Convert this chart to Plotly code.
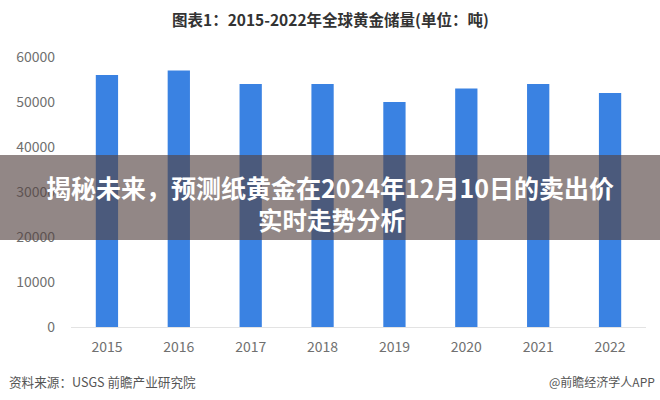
import plotly.graph_objects as go

years = ["2015", "2016", "2017", "2018", "2019", "2020", "2021", "2022"]
reserves = [56000, 57000, 54000, 54000, 50000, 53000, 54000, 52000]
y_ticks = [0, 10000, 20000, 30000, 40000, 50000, 60000]

title_text = "图表1：2015-2022年全球黄金储量(单位：吨)"
banner_line1 = "揭秘未来，预测纸黄金在2024年12月10日的卖出价"
banner_line2 = "实时走势分析"
source_text = "资料来源：USGS 前瞻产业研究院"
brand_text = "@前瞻经济学人APP"

W, H = 660, 400
L, R, T, B = 71, 14, 57, 73
pw, ph = W - L - R, H - T - B

def px(x):
    return (x - L) / pw

def py(y):
    return (H - B - y) / ph

font_cjk = "Noto Sans CJK SC, Noto Sans, sans-serif"

fig = go.Figure(go.Bar(
    x=years, y=reserves,
    marker=dict(color="#3a82e2", line=dict(width=0)),
    width=0.31,
    hoverinfo="x+y",
))

fig.update_layout(
    width=W, height=H,
    margin=dict(l=L, r=R, t=T, b=B),
    paper_bgcolor="white", plot_bgcolor="white",
    showlegend=False,
    font=dict(family=font_cjk, color="#666666", size=14),
    xaxis=dict(
        type="category", showgrid=False, zeroline=False,
        showline=True, linecolor="#e3e3e3", linewidth=1,
        ticks="", tickfont=dict(size=14, color="#707070"),
        ticklabelstandoff=7,
    ),
    yaxis=dict(
        range=[0, 60000], tickvals=y_ticks, ticktext=[str(v) for v in y_ticks],
        showgrid=False, zeroline=False, showline=False, ticks="",
        tickfont=dict(size=14, color="#707070"),
        ticklabelstandoff=15,
    ),
)

fig.add_shape(
    type="rect", xref="paper", yref="paper",
    x0=px(0), x1=px(W), y0=py(240), y1=py(155),
    fillcolor="rgba(84,68,65,0.64)", line=dict(width=0), layer="above",
)

fig.add_annotation(
    text="<b>" + title_text + "</b>", xref="paper", yref="paper",
    x=px(330), y=py(19), showarrow=False,
    font=dict(size=15.5, color="#333333", family=font_cjk),
    xanchor="center", yanchor="middle",
)
fig.add_annotation(
    text="<b>" + banner_line1 + "</b>", xref="paper", yref="paper",
    x=px(330), y=py(187), showarrow=False,
    font=dict(size=25, color="white", family=font_cjk),
    xanchor="center", yanchor="middle",
)
fig.add_annotation(
    text="<b>" + banner_line2 + "</b>", xref="paper", yref="paper",
    x=px(331), y=py(219), showarrow=False,
    font=dict(size=24.5, color="white", family=font_cjk),
    xanchor="center", yanchor="middle",
)
fig.add_annotation(
    text=source_text, xref="paper", yref="paper",
    x=px(7), y=py(381), showarrow=False,
    font=dict(size=12.6, color="#555555", family=font_cjk),
    xanchor="left", yanchor="middle",
)
fig.add_annotation(
    text=brand_text, xref="paper", yref="paper",
    x=px(657), y=py(381), showarrow=False,
    font=dict(size=12, color="#555555", family=font_cjk),
    xanchor="right", yanchor="middle",
)

fig.write_html("out.html")
